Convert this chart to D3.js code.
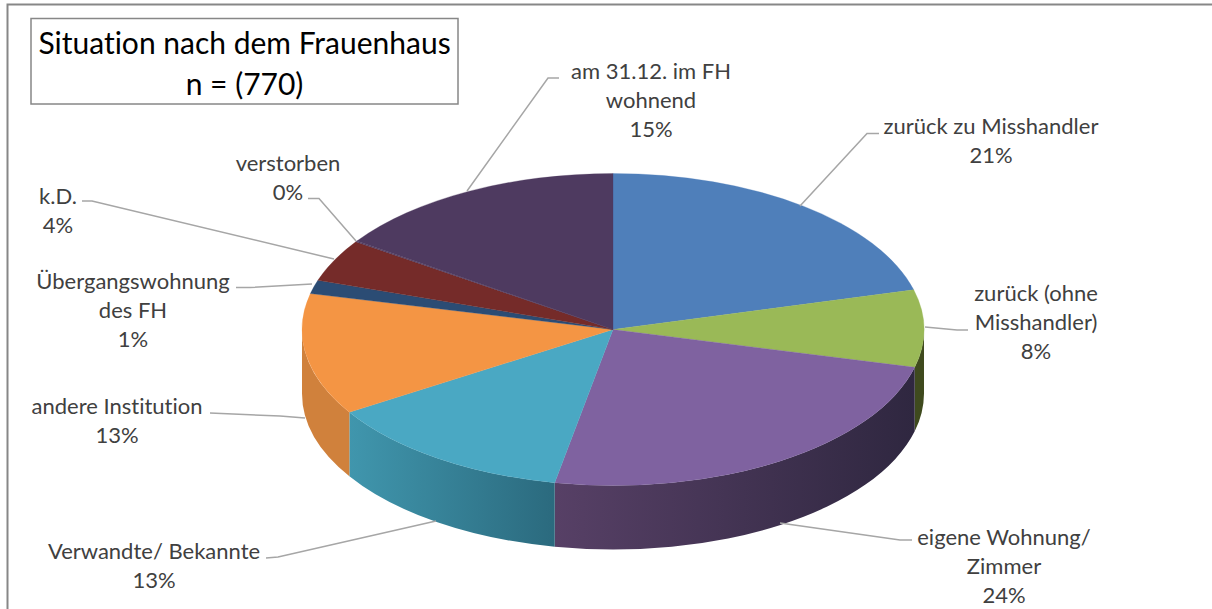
<!DOCTYPE html>
<html><head><meta charset="utf-8">
<script src="https://cdn.jsdelivr.net/npm/d3@7"></script>
<style>html,body{margin:0;padding:0;background:#fff}svg{display:block}text{font-family:Lato,"Open Sans",sans-serif;font-variant-ligatures:none}</style>
</head><body><svg id="c" width="1212" height="609"></svg>
<script>
const categories=["zurück zu Misshandler","zurück (ohne Misshandler)","eigene Wohnung/ Zimmer","Verwandte/ Bekannte","andere Institution","Übergangswohnung des FH","k.D.","verstorben","am 31.12. im FH wohnend"];
const shares=[20.9,8.0,24.1,13.1,12.6,1.4,4.4,0.1,15.4];
const titleLines=["Situation nach dem Frauenhaus","n = (770)"];
const labelLines=[["zurück zu Misshandler"],["zurück (ohne","Misshandler)"],["eigene Wohnung/","Zimmer"],["Verwandte/ Bekannte"],["andere Institution"],["Übergangswohnung","des FH"],["k.D."],["verstorben"],["am 31.12. im FH","wohnend"]];
const topColors=["#4f7fba","#9ab957","#7f62a0","#4aa8c3","#f49544","#2b4c74","#752b29","#4e3a60","#4e3a60"];
const sideFrom=["#3f6797","#3f4a1e","#574066","#4096ad","#d0813c","#233e5e","#5f2322","#4c3a62","#3f2f4e"];
const sideTo=["#3f6797","#3f4a1e","#2f2740","#2b6a7e","#d0813c","#233e5e","#5f2322","#4c3a62","#3f2f4e"];
// layout
const cx=613,cy=329.5,rx=311,ry=156,depth=64;
const labelAnchor=[[991,134],[1036,301],[1004,545],[154,559],[117,414],[133,289],[58,204],[288,171],[651,79]];
const leaders=[[[800,206],[867,133.5],[879,133.5]],[[925,327],[957,330],[968,330]],[[780,523],[900,540],[912,540]],[[436,521],[278,557],[266,558]],[[305,418],[280,416],[210,413]],[[312,284],[250,287.5],[236,287.5]],[[334,259],[92,201],[82,201]],[[356,241],[319,198.5],[308,198.5]],[[467,191],[548,78],[559,78]]];
const lh=29;

const svg=d3.select("#c");
const pie=d3.pie().sort(null).value(d=>d)(shares);
const defs=svg.append("defs");
const ex=t=>cx+rx*Math.sin(t), ey=t=>cy-ry*Math.cos(t);

// frame
svg.append("path").attr("d",d3.line()([[7.5,609],[7.5,4.5],[1212,4.5]])).attr("fill","none").attr("stroke","#878787").attr("stroke-width",2);

// side walls: front half only
const front=pie.map((p,i)=>({i,a:Math.max(p.startAngle,Math.PI/2),b:Math.min(p.endAngle,Math.PI*1.5)})).filter(s=>s.b>s.a);
front.forEach(s=>{
  const g=defs.append("linearGradient").attr("id","side"+s.i).attr("gradientUnits","userSpaceOnUse")
    .attr("x1",ex(s.a)).attr("x2",ex(s.b)).attr("y1",0).attr("y2",0);
  g.append("stop").attr("offset",0).attr("stop-color",sideTo[s.i]);
  g.append("stop").attr("offset",1).attr("stop-color",sideFrom[s.i]);
});
svg.append("g").selectAll("path").data(front).join("path")
  .attr("fill",s=>`url(#side${s.i})`)
  .attr("d",s=>`M${ex(s.a)},${ey(s.a)}A${rx},${ry} 0 0 1 ${ex(s.b)},${ey(s.b)}L${ex(s.b)},${ey(s.b)+depth}A${rx},${ry} 0 0 0 ${ex(s.a)},${ey(s.a)+depth}Z`);

// top face
const arc=d3.arc().innerRadius(0).outerRadius(rx);
svg.append("g").attr("transform",`translate(${cx},${cy}) scale(1,${ry/rx})`)
  .selectAll("path").data(pie).join("path")
  .attr("d",arc).attr("fill",(d,i)=>topColors[i]).attr("stroke",(d,i)=>topColors[i]).attr("stroke-width",0.4);

// leaders
svg.append("g").selectAll("path").data(leaders).join("path")
  .attr("d",d3.line()).attr("fill","none").attr("stroke","#a6a6a6").attr("stroke-width",1.5);

// labels
const lab=svg.append("g").attr("font-size",22).attr("fill","#404040").attr("text-anchor","middle");
labelLines.forEach((lines,i)=>{
  const [x,y]=labelAnchor[i];
  [...lines,Math.round(shares[i])+"%"].forEach((t,j)=>lab.append("text").attr("x",x).attr("y",y+j*lh).text(t));
});

// title
svg.append("rect").attr("x",31).attr("y",18.5).attr("width",427).attr("height",85.5).attr("fill","#fff").attr("stroke","#878787").attr("stroke-width",1.5);
svg.append("g").attr("font-size",30).attr("fill","#000").attr("text-anchor","middle")
  .selectAll("text").data(titleLines).join("text").attr("x",244.5).attr("y",(d,i)=>54+i*41).text(d=>d);
</script></body></html>
